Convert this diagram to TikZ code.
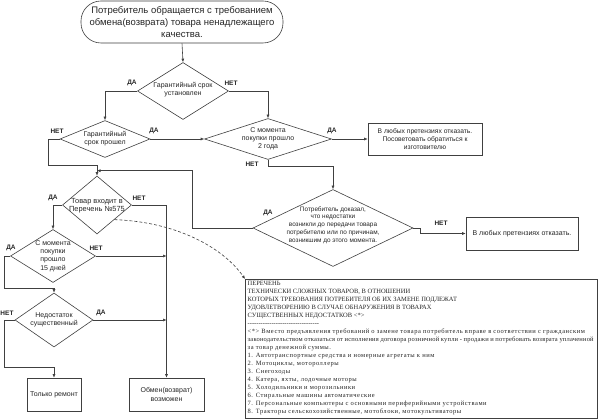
\documentclass[tikz,border=0pt]{standalone}
\usepackage{fontspec}
\setmainfont{Liberation Sans}
\newfontfamily\serifru{Liberation Serif}
\newfontfamily\serifwide[LetterSpace=8]{Liberation Serif}
\newfontfamily\serifmid[LetterSpace=3]{Liberation Serif}
\usetikzlibrary{shapes.geometric,arrows.meta}
\definecolor{lc}{HTML}{404040}
\definecolor{tc}{HTML}{262626}
\begin{document}
\begin{tikzpicture}[x=1pt,y=-1pt,
  ln/.style={draw=lc, line width=0.6pt},
  arr/.style={ln, -{Latex[length=3.5pt,width=3pt]}},
  dia/.style={diamond, draw=lc, line width=0.6pt, inner sep=0pt},
  txt/.style={font=\fontsize{7}{8.2}\selectfont, align=center, text=tc, inner sep=0pt},
  lab/.style={font=\fontsize{6.5}{7}\selectfont\bfseries, text=tc, inner sep=0pt},
  bx/.style={draw=lc, line width=0.6pt, inner sep=0pt, align=center, text=tc, font=\fontsize{7}{8.2}\selectfont},
  term/.style={draw=lc, line width=0.6pt, rounded corners=20pt, inner sep=0pt, align=center, text=tc, font=\fontsize{9.5}{12}\selectfont},
]
\fill[white] (0,0) rectangle (600,419);
\useasboundingbox (0,0) rectangle (600,419);

% nodes
\node[term, minimum width=202pt, minimum height=42pt] (start) at (182,22) {Потребитель обращается с требованием\\обмена(возврата) товара ненадлежащего\\качества.};

\node[dia, minimum width=91pt, minimum height=57pt] (d1) at (183,91) {};
\node[txt] (d1t) at (183,90) {Гарантийный срок\\установлен};

\node[dia, minimum width=90pt, minimum height=37pt] (d2) at (105,139) {};
\node[txt] (d2t) at (105,138.5) {Гарантийный\\срок прошел};

\node[dia, minimum width=127pt, minimum height=41pt] (d3) at (268,139) {};
\node[txt] (d3t) at (268,139) {С момента\\покупки прошло\\2 года};

\node[dia, minimum width=160pt, minimum height=77pt] (d4) at (333,228) {};
\node[txt, font=\fontsize{6.4}{7.8}\selectfont] (d4t) at (333,225) {Потребитель доказал,\\что недостатки\\возникли до передачи товара\\потребителю или по причинам,\\возникшим до этого момента.};

\node[dia, minimum width=69pt, minimum height=58pt] (d5) at (97,205) {};
\node[txt, font=\fontsize{7.4}{8.4}\selectfont] (d5t) at (97,206) {Товар входит в\\Перечень №575};

\node[dia, minimum width=85pt, minimum height=53pt] (d6) at (53,256) {};
\node[txt] (d6t) at (53,256) {С момента\\покупки\\прошло\\15 дней};

\node[dia, minimum width=78pt, minimum height=54pt] (d7) at (54,320) {};
\node[txt] (d7t) at (54,320) {Недостаток\\существенный};

\node[bx, minimum width=114pt, minimum height=32pt, font=\fontsize{6.7}{8}\selectfont] (b1) at (425,139) {В любых претензиях отказать.\\Посоветовать обратиться к\\изготовителю};
\node[bx, minimum width=112pt, minimum height=33pt] (b2) at (522,233.5) {В любых претензиях отказать.};
\node[bx, minimum width=54pt, minimum height=33pt] (b3) at (54,394.5) {Только ремонт};
\node[bx, minimum width=75pt, minimum height=33pt] (b4) at (166.5,394.5) {Обмен(возврат)\\возможен};

\node[draw=lc, line width=0.6pt, minimum width=352pt, minimum height=139pt, inner sep=0pt, anchor=north west] (b5) at (245,279) {};
\node[anchor=north west, inner sep=0pt, align=left, text=tc, font=\serifru\fontsize{6.5}{7.95}\selectfont] (b5t) at (247.5,281.5) {ПЕРЕЧЕНЬ\\
ТЕХНИЧЕСКИ СЛОЖНЫХ ТОВАРОВ, В ОТНОШЕНИИ\\
КОТОРЫХ ТРЕБОВАНИЯ ПОТРЕБИТЕЛЯ ОБ ИХ ЗАМЕНЕ ПОДЛЕЖАТ\\
УДОВЛЕТВОРЕНИЮ В СЛУЧАЕ ОБНАРУЖЕНИЯ В ТОВАРАХ\\
СУЩЕСТВЕННЫХ НЕДОСТАТКОВ <*>\\
\foreach \i in {1,...,33}{-}\\
\serifwide <*> Вместо предъявления требований о замене товара потребитель вправе в соответствии с гражданским\\
\makebox[346pt][s]{\serifmid законодательством отказаться от исполнения договора розничной купли - продажи и потребовать возврата уплаченной}\\
\serifwide за товар денежной суммы.\\
\serifwide 1. Автотранспортные средства и номерные агрегаты к ним\\
\serifwide 2. Мотоциклы, мотороллеры\\
\serifwide 3. Снегоходы\\
\serifwide 4. Катера, яхты, лодочные моторы\\
\serifwide 5. Холодильники и морозильники\\
\serifwide 6. Стиральные машины автоматические\\
\serifwide 7. Персональные компьютеры с основными периферийными устройствами\\
\serifwide 8. Тракторы сельскохозяйственные, мотоблоки, мотокультиваторы};

% connectors
\draw[arr] (start.south) -- (d1.north);
\draw[arr] (d1.west) -| (d2.north);
\draw[arr] (d1.east) -| (d3.north);
\draw[arr] (d2.east) -- (d3.west);
\draw[arr] (d3.east) -- (b1.west);
\draw[arr] (d3.south) -- ++(0,7) -| (d4.north);
\draw[arr] (d2.west) -- ++(-11,0) |- ([yshift=10pt]d5.north) -- (d5.north);
\draw[arr] (d4.west) -- ++(-60,0) |- ([yshift=5pt]d5.north);
\draw[arr] (d4.east) -- ++(7,0) |- (b2.west);
\draw[arr] (d5.west) -| (d6.north);
\draw[arr] (d5.east) -| (b4.north);
\draw[arr] (d6.east) -- (d6.east -| b4.north);
\draw[arr] (d6.west) -- ++(-6,0) |- ([yshift=4pt]d7.north) -- (d7.north);
\draw[arr] (d7.west) -- ++(-10,0) |- ([yshift=10pt]b3.north) -- (b3.north);
\draw[arr] (d7.east) -- (d7.east -| b4.north);
\draw[arr, dashed, dash pattern=on 3pt off 2pt] (d5.south east) .. controls (180,222) and (225,250) .. (b5.north west);

% labels
\node[lab] (l1) at (132,83) {ДА};
\node[lab] (l2) at (231,83) {НЕТ};
\node[lab] (l3) at (57,131) {НЕТ};
\node[lab] (l4) at (154,131) {ДА};
\node[lab] (l5) at (332,131) {ДА};
\node[lab] (l6) at (252,164) {НЕТ};
\node[lab] (l7) at (268,213) {ДА};
\node[lab] (l8) at (441,223) {НЕТ};
\node[lab] (l9) at (53,198) {ДА};
\node[lab] (l10) at (139,198) {НЕТ};
\node[lab] (l11) at (11,248) {ДА};
\node[lab] (l12) at (96,248) {НЕТ};
\node[lab] (l13) at (7,313) {НЕТ};
\node[lab] (l14) at (101,313) {ДА};
\end{tikzpicture}
\end{document}
